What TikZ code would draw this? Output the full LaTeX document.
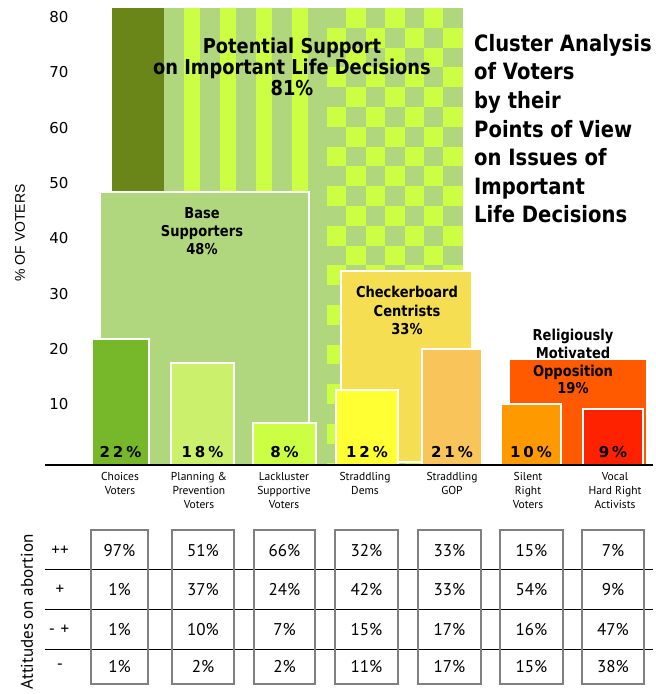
\documentclass[tikz,border=0pt]{standalone}
\usepackage{fontspec}
\setmainfont{PT Sans}
\newfontfamily\tahoma[FakeStretch=0.87]{DejaVu Sans}
\newfontfamily\verd{DejaVu Sans}
\newfontfamily\pctfont[LetterSpace=20]{DejaVu Sans}
\newfontfamily\arialf{Liberation Sans}
\newfontfamily\myr{PT Sans}
\definecolor{dkgreen}{HTML}{6A8518}
\definecolor{lgreen}{HTML}{B0D67E}
\definecolor{ygreen}{HTML}{CCFF44}
\definecolor{choicesc}{HTML}{76B82A}
\definecolor{planc}{HTML}{CBF06C}
\definecolor{checkc}{HTML}{F5DE52}
\definecolor{demsc}{HTML}{FFFF33}
\definecolor{gopc}{HTML}{F9C45A}
\definecolor{relc}{HTML}{FF5A00}
\definecolor{silentc}{HTML}{FF9900}
\definecolor{vocalc}{HTML}{FF2200}
\definecolor{boxgray}{HTML}{808080}
\tikzset{
  barbox/.style={draw=white, line width=2pt},
  grouplabel/.style={font=\tahoma\bfseries\fontsize{15}{18}\selectfont, align=center, inner sep=0, anchor=north},
  pct/.style={font=\pctfont\bfseries\fontsize{15}{18}\selectfont, inner sep=0, anchor=base},
  ticklabel/.style={font=\verd\fontsize{15}{18}\selectfont, inner sep=0},
  catlabel/.style={font=\myr\fontsize{11.5}{14}\selectfont, align=center, inner sep=0, anchor=north},
  cell/.style={font=\myr\fontsize{17}{20}\selectfont, inner sep=0},
  colbox/.style={draw=boxgray, line width=1.5pt},
  rowline/.style={draw=black, line width=1pt}
}
\begin{document}
\begin{tikzpicture}[x=1pt,y=-1pt]
\useasboundingbox (0,0) rectangle (656,694);
% background: dark bar, stripes, checkerboard
\fill[dkgreen] (112,8) rectangle (164,465);
\fill[lgreen] (164,8) rectangle (327,465);
\foreach \i in {0,...,3} \fill[ygreen] ({184+36*\i},8) rectangle ({200+36*\i},465);
\begin{scope}
  \clip (327,8) rectangle (463,465);
  \fill[lgreen] (327,8) rectangle (463,465);
  \foreach \r in {0,...,23} {
    \foreach \c in {0,...,6} {
      \pgfmathtruncatemacro\myparity{mod(\r+\c,2)}
      \ifnum\myparity=1 \fill[ygreen] ({327+19.4*\c},{8+19.8*\r}) rectangle ++(19.4,19.8); \fi
    }
  }
\end{scope}
% group boxes
\filldraw[fill=lgreen, barbox] (100,192) rectangle (309,466);
\filldraw[fill=checkc, barbox] (341,271) rectangle (472,462);
\fill[relc] (510,360) rectangle (646,465);
% bars
\filldraw[fill=choicesc, barbox] (92,339) rectangle (149,466);
\filldraw[fill=planc, barbox] (171,363) rectangle (234,466);
\filldraw[fill=ygreen, barbox] (253,423) rectangle (316,466);
\filldraw[fill=demsc, barbox] (336,390) rectangle (398,466);
\filldraw[fill=gopc, barbox] (422,349) rectangle (482,466);
\filldraw[fill=silentc, barbox] (501,404) rectangle (561,466);
\filldraw[fill=vocalc, barbox] (583,409) rectangle (643,466);
% baseline
\coordinate (bl) at (45,465);
\coordinate (br) at (653,465);
\draw[line width=2pt] (bl) -- (br);
% y ticks
\foreach \v in {10,20,...,80}
  \node[ticklabel] (t\v) at (59,{459.6-5.53*\v}) {\v};
\node[font=\arialf\fontsize{14}{16}\selectfont, rotate=90, inner sep=0] (ylab) at (20,233) {\% OF VOTERS};
% headline texts
\node[font=\tahoma\bfseries\fontsize{20.5}{18}\selectfont, align=center, inner sep=0, anchor=north] (pot) at (292,38)
  {Potential Support\\on Important Life Decisions\\81\%};
\node[font=\tahoma\bfseries\fontsize{22.5}{28.6}\selectfont, align=left, inner sep=0, anchor=north west] (title) at (474,34)
  {Cluster Analysis\\of Voters\\by their\\Points of View\\on Issues of\\Important\\Life Decisions};
\node[grouplabel] (base) at (202,207.5) {Base\\Supporters\\48\%};
\node[grouplabel, font=\tahoma\bfseries\fontsize{15}{18.5}\selectfont] (check) at (407,286) {Checkerboard\\Centrists\\33\%};
\node[grouplabel, font=\tahoma\bfseries\fontsize{15}{17.7}\selectfont] (relig) at (573,329) {Religiously\\Motivated\\Opposition\\19\%};
% bar percentages
\node[pct] (p1) at (120.5,457.5) {22\%};
\node[pct] (p2) at (202.5,457.5) {18\%};
\node[pct] (p3) at (284.5,457.5) {8\%};
\node[pct] (p4) at (367,457.5) {12\%};
\node[pct] (p5) at (452,457.5) {21\%};
\node[pct] (p6) at (531,457.5) {10\%};
\node[pct] (p7) at (613,457.5) {9\%};
% category labels
\node[catlabel] (c1) at (120,472.5) {Choices\\Voters};
\node[catlabel] (c2) at (199,472.5) {Planning \&\\Prevention\\Voters};
\node[catlabel] (c3) at (284,472.5) {Lackluster\\Supportive\\Voters};
\node[catlabel] (c4) at (365,472.5) {Straddling\\Dems};
\node[catlabel] (c5) at (452,472.5) {Straddling\\GOP};
\node[catlabel] (c6) at (528,472.5) {Silent\\Right\\Voters};
\node[catlabel] (c7) at (615,472.5) {Vocal\\Hard Right\\Activists};
% table
\node[font=\myr\fontsize{17}{20}\selectfont, rotate=90, inner sep=0] (att) at (27,612) {Attitudes on abortion};
\foreach \yy [count=\k] in {569.3,609,649} {
  \coordinate (ll\k) at (45,\yy);
  \coordinate (lr\k) at (653,\yy);
  \draw[rowline] (ll\k) -- (lr\k);
}
\node[cell] (r1) at (60,551) {++};
\node[cell] (r2) at (60,590) {+};
\node[cell] (r3) at (59,630) {-\,\,+};
\node[cell] (r4) at (60,667) {-};
\foreach \xl/\xr/\a/\b/\c/\d [count=\k] in {
  91/148/97/1/1/1, 172/234/51/37/10/2, 254/315/66/24/7/2, 335/398/32/42/15/11,
  418/481/33/33/17/17, 500/563/15/54/16/15, 582/644/7/9/47/38} {
  \draw[colbox] (\xl,530) rectangle (\xr,684);
  \pgfmathsetmacro\cx{(\xl+\xr)/2}
  \node[cell] (v\k a) at (\cx,551) {\a\%};
  \node[cell] (v\k b) at (\cx,590) {\b\%};
  \node[cell] (v\k c) at (\cx,630) {\c\%};
  \node[cell] (v\k d) at (\cx,667) {\d\%};
}
\end{tikzpicture}
\end{document}
